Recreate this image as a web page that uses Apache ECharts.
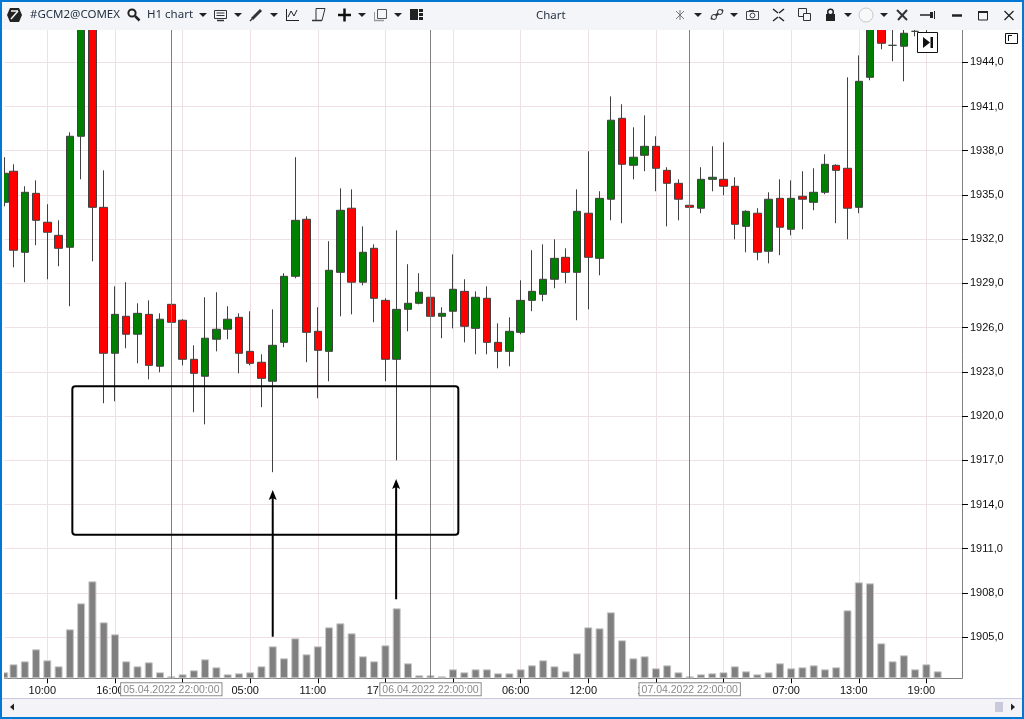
<!DOCTYPE html>
<html>
<head>
<meta charset="utf-8">
<title>Chart</title>
<style>
    html, body { margin: 0; padding: 0; background: #fff; overflow: hidden; }
    #main { width: 1024px; height: 719px; }
</style>
<script src="https://cdn.jsdelivr.net/npm/echarts@6/dist/echarts.min.js"></script>
</head>
<body>
<div id="main"></div>
<script>
var openValues = [1934.50,1936.61,1931.11,1935.11,1933.15,1932.26,1931.45,1938.98,1948.20,1934.16,
    1924.26,1926.77,1925.55,1926.90,1923.38,1927.58,1926.50,1923.85,1922.70,1925.21,
    1925.89,1926.70,1924.39,1923.65,1922.36,1925.00,1929.48,1933.35,1925.75,1924.39,
    1929.75,1934.10,1929.08,1931.38,1927.85,1923.85,1927.24,1927.65,1928.06,1926.77,
    1927.11,1928.46,1925.95,1927.99,1925.00,1924.39,1925.68,1927.85,1928.26,1929.28,
    1930.77,1929.75,1933.76,1930.70,1934.71,1940.20,1937.01,1937.69,1938.30,1936.67,
    1935.79,1934.30,1934.10,1936.06,1936.06,1935.59,1932.87,1933.76,1931.18,1934.77,
    1932.67,1934.91,1934.50,1935.18,1937.01,1936.81,1934.16,1942.98,1947.60,1945.15,
    1945.09,1946.10,1946.60,1947.50];
var closeValues = [1936.47,1931.25,1935.18,1933.28,1932.47,1931.38,1938.98,1948.00,1934.16,1924.26,
    1926.90,1925.55,1926.97,1923.44,1926.57,1926.36,1923.85,1922.90,1925.28,1925.89,
    1926.57,1924.26,1923.58,1922.56,1924.80,1929.48,1933.28,1925.68,1924.46,1929.89,
    1933.96,1929.08,1931.11,1927.99,1923.85,1927.24,1927.65,1928.40,1926.77,1926.97,
    1928.60,1926.09,1928.06,1925.00,1924.39,1925.75,1927.85,1928.46,1929.28,1930.70,
    1929.75,1933.89,1930.77,1934.77,1940.07,1937.08,1937.56,1938.30,1936.81,1935.79,
    1934.71,1934.16,1936.06,1936.20,1935.59,1933.01,1933.89,1931.11,1934.71,1932.81,
    1934.77,1934.71,1935.18,1937.08,1936.67,1934.10,1942.71,1947.50,1945.29,1945.15,
    1945.97,1946.10,1947.20,1948.00];
var lowValues = [1934.23,1930.09,1929.08,1931.59,1929.28,1930.16,1927.45,1936.06,1930.50,1920.87,
    1921.00,1924.60,1923.58,1922.49,1922.97,1925.28,1923.44,1920.26,1919.44,1924.39,
    1925.21,1922.90,1923.44,1920.60,1916.19,1924.67,1929.35,1923.65,1921.21,1922.36,
    1926.77,1926.90,1928.87,1926.36,1922.36,1917.00,1925.75,1927.58,1926.16,1925.28,
    1925.95,1925.00,1924.19,1924.19,1923.24,1923.38,1925.55,1927.11,1927.79,1928.67,
    1929.01,1926.50,1927.24,1929.55,1933.28,1933.08,1936.06,1936.61,1935.25,1932.87,
    1933.28,1933.35,1933.76,1935.25,1934.98,1931.99,1931.11,1930.57,1930.36,1930.91,
    1932.26,1932.67,1933.96,1935.05,1933.08,1931.99,1933.76,1942.78,1944.88,1944.07,
    1942.71,1945.76,1945.97,1947.20];
var highValues = [1937.56,1937.08,1935.59,1935.99,1934.37,1933.28,1939.25,1948.50,1948.50,1936.67,
    1928.80,1929.08,1927.65,1927.85,1926.97,1928.80,1926.57,1924.80,1928.06,1928.40,
    1927.45,1926.97,1927.11,1924.19,1927.24,1929.69,1937.56,1933.55,1927.38,1931.86,
    1935.45,1935.38,1932.87,1931.65,1927.99,1932.60,1930.30,1929.69,1928.40,1927.38,
    1930.97,1929.28,1928.46,1928.80,1926.29,1926.70,1929.21,1931.25,1931.65,1931.99,
    1931.38,1935.38,1937.96,1935.25,1941.69,1941.15,1939.59,1940.40,1938.98,1936.88,
    1936.06,1935.25,1936.88,1938.30,1938.57,1936.20,1933.96,1934.10,1935.18,1936.06,
    1935.99,1936.61,1936.81,1937.76,1937.08,1942.98,1944.47,1948.00,1948.00,1947.00,
    1947.00,1947.00,1948.00,1948.50];
var volumeValues = [18,42,51,87,54,36,147,225,291,168,
    132,51,36,48,18,6,12,24,57,33,
    12,15,18,36,96,60,120,72,96,153,
    165,135,66,51,99,210,45,9,9,6,
    27,18,27,27,15,15,27,39,54,36,
    21,75,153,150,198,114,60,66,30,39,
    18,6,12,15,18,36,21,12,18,45,
    30,33,39,27,33,204,288,285,105,51,
    69,27,42,21];
var xTickIndex = [4,10,16,22,28,34,40,46,52,58,64,70,76,82];
var xTickLabels = ['10:00','16:00','22:00','05:00','11:00','17:00','23:00','06:00','12:00','18:00','01:00','07:00','13:00','19:00'];
var priceTicks = [1905,1908,1911,1914,1917,1920,1923,1926,1929,1932,1935,1938,1941,1944];
var sessionIndex = [15,38,61];
var sessionLabels = ['05.04.2022 22:00:00','06.04.2022 22:00:00','07.04.2022 22:00:00'];
var boxCoords = [[6.22,1922.02,40.47,1911.95]];
var arrowCoords = [[24.0,1905.03,1914.98],[34.95,1907.57,1915.73]];

var candleData = [];
var volumeData = [];
for (var i = 0; i < openValues.length; i++) {
    // the first bar is cut by the left edge and sits a little closer to the second one
    var barX = i === 0 ? 0.18 : i;
    candleData.push([barX, openValues[i], closeValues[i], lowValues[i], highValues[i]]);
    volumeData.push([barX, volumeValues[i]]);
}

var sessionLines = [];
for (var s = 0; s < sessionIndex.length; s++) {
    sessionLines.push({ xAxis: sessionIndex[s], label: { formatter: sessionLabels[s] } });
}

var FONT = '"Liberation Sans", Arial, sans-serif';
var UI_FONT = '"Noto Sans", sans-serif';
var CHROME_Z = 50;

// window chrome helpers
function box(x, y, w, h, fill, stroke, lw) {
    return { type: 'rect', z: CHROME_Z, silent: true, shape: { x: x, y: y, width: w, height: h },
        style: { fill: fill || 'none', stroke: stroke || 'none', lineWidth: lw || 1 } };
}
function caret(x, y) {
    return { type: 'polygon', z: CHROME_Z, silent: true, shape: { points: [[x, y], [x + 8, y], [x + 4, y + 4]] }, style: { fill: '#222' } };
}
function poly(points, fill) {
    return { type: 'polygon', z: CHROME_Z, silent: true, shape: { points: points }, style: { fill: fill } };
}
function line(x1, y1, x2, y2, color, lw) {
    return { type: 'line', z: CHROME_Z, silent: true, shape: { x1: x1, y1: y1, x2: x2, y2: y2 }, style: { stroke: color || '#222', lineWidth: lw || 1 } };
}
function ring(cx, cy, r, stroke, lw, fill) {
    return { type: 'circle', z: CHROME_Z, silent: true, shape: { cx: cx, cy: cy, r: r }, style: { fill: fill || 'none', stroke: stroke, lineWidth: lw || 1 } };
}
function label(x, y, text) {
    return { type: 'text', z: CHROME_Z, silent: true, x: x, y: y,
        style: { text: text, fill: '#1f2d3d', font: '11.5px ' + UI_FONT, verticalAlign: 'middle' } };
}

var chrome = [
    box(0, 0, 1024, 30, '#f4f5f9'),
    box(0, 698, 1024, 21, '#f3f3f8'),
    line(0, 698.5, 1024, 698.5, '#c9c9de'),
    box(2, 30, 2, 668, '#fff'),
    box(0, 0, 1024, 2, '#0078d4'),
    box(0, 0, 2, 719, '#0078d4'),
    box(1022, 0, 2, 719, '#0078d4'),
    box(0, 717, 1024, 2, '#0078d4'),

    // left toolbar
    poly([[10, 8], [19, 8], [22, 15], [19, 22], [10, 22], [7, 15]], '#222'),
    line(11, 11, 18, 11, '#f4f5f9', 1.5), line(18, 11, 11, 19, '#f4f5f9', 1.5),
    label(30, 15, '#GCM2@COMEX'),
    ring(132, 13, 3.6, '#222', 2), line(135, 16, 139.5, 20.5, '#222', 2.5),
    label(147, 15, 'H1 chart'),
    caret(199, 13),
    box(214.5, 10.5, 12, 8, '#f4f5f9', '#333'), line(216.5, 13, 224.5, 13, '#333'), line(216.5, 15.5, 224.5, 15.5, '#333'), line(217, 20.5, 224, 20.5, '#333', 1.5),
    caret(234, 13),
    line(252, 19, 261, 10, '#333', 3), line(250, 21, 252, 19, '#333', 1.5),
    caret(270, 13),
    line(286.5, 9, 286.5, 20.5, '#222'), line(286, 20.5, 299, 20.5, '#222'), line(288, 17, 291, 11, '#222'), line(291, 11, 294, 16, '#222'), line(294, 16, 297, 10, '#222'),
    line(316, 8.5, 325, 8.5, '#333'), line(316, 8.5, 316, 20, '#333'), line(325, 8.5, 322, 20.5, '#333'), line(312, 20.5, 322, 20.5, '#333', 1.5),
    line(338, 15, 351, 15, '#111', 2.5), line(344.5, 8.5, 344.5, 21.5, '#111', 2.5),
    caret(358, 13),
    box(377.5, 9.5, 9, 9, '#f4f5f9', '#555'), line(374.5, 12, 374.5, 20.5, '#999'), line(374, 20.5, 384, 20.5, '#999', 1.5),
    caret(394, 13),
    box(410, 9, 8, 11, '#222'), box(419, 9, 4, 3, '#222'), box(419, 13, 4, 3, '#222'), box(419, 17, 4, 3, '#222'),

    label(536, 15.5, 'Chart'),

    // right toolbar
    line(676, 11, 684, 19, '#777'), line(684, 11, 676, 19, '#777'), line(680, 10, 680, 20, '#777'),
    caret(694, 13),
    line(711, 19, 723, 10, '#333', 2.5), ring(714, 17, 2.5, '#333', 1, '#f4f5f9'), ring(720, 12, 2.5, '#333', 1, '#f4f5f9'),
    caret(730, 13),
    box(746.5, 11.5, 12, 8, '#f4f5f9', '#444'), ring(752.5, 15.5, 2.4, '#444'), line(749, 10.5, 754, 10.5, '#444'),
    line(773, 9, 778, 13, '#222', 1.5), line(784, 9, 779, 13, '#222', 1.5), line(773, 21, 778, 17, '#222', 1.5), line(784, 21, 779, 17, '#222', 1.5),
    box(798.5, 8.5, 8, 8, '#f4f5f9', '#333'), box(803.5, 13.5, 7, 7, '#f4f5f9', '#333'),
    box(826, 14, 9, 7, '#222'), ring(830.5, 12, 2.8, '#222', 1.5),
    caret(844, 13),
    ring(866, 15, 7, '#c9c9c9', 1, '#f8f8f8'),
    caret(880, 13),
    line(897, 10, 907, 20, '#333', 2), line(907, 10, 898, 20, '#333', 2),
    line(920, 15, 930, 15, '#222', 1.5), box(930, 12, 3, 6, '#222'), line(934.5, 11, 934.5, 19, '#222'),
    line(952, 15.5, 962, 15.5, '#222', 2.5),
    box(978.5, 11.5, 9, 8.5, 'none', '#222'), line(978, 12, 988, 12, '#222', 2),
    line(1004.5, 11, 1013.5, 20, '#222', 1.2), line(1013.5, 11, 1004.5, 20, '#222', 1.2),

    // chart corner buttons
    box(917.5, 32.5, 20, 20, '#fff', '#111'),
    poly([[923, 37], [930, 42.5], [923, 48]], '#111'), box(930.5, 37, 2.5, 11, '#111'),
    box(1005.5, 33.5, 12, 10, '#fff', '#111'),
    line(1008, 35.5, 1012, 35.5, '#111'), line(1008.5, 35.5, 1008.5, 41, '#111'),

    // scroll bar
    poly([[14, 703.5], [14, 710.5], [10, 707]], '#222'),
    box(995, 702, 8, 10, '#c8cadc'),
    poly([[1011, 703.5], [1011, 710.5], [1015, 707]], '#222')
];

var myChart = echarts.init(document.getElementById('main'), null, { renderer: 'canvas' });

var option = {
    animation: false,
    backgroundColor: '#fff',
    grid: { left: 4.5, right: 62, top: 30, bottom: 40.7 },
    xAxis: {
        type: 'value',
        // x = 2.2 + 11.27 * index, the plot starts just after the first candle
        min: 0.2,
        max: 85.16,
        axisLine: { onZero: false, lineStyle: { color: '#808080' } },
        axisTick: { show: true, customValues: xTickIndex, length: 5, lineStyle: { color: '#000', width: 1 } },
        axisLabel: {
            customValues: xTickIndex,
            color: '#111',
            fontSize: 11,
            fontFamily: FONT,
            margin: 7,
            padding: [0, 10, 0, 0],
            formatter: function (value) {
                return xTickLabels[xTickIndex.indexOf(value)] || '';
            }
        },
        splitLine: { show: true, lineStyle: { color: '#efe0e6', width: 1 } }
    },
    yAxis: [
        {
            type: 'value',
            position: 'right',
            min: 1902.21,
            max: 1946.19,
            axisLine: { show: true, lineStyle: { color: '#808080' } },
            axisTick: { show: true, customValues: priceTicks, length: 6, lineStyle: { color: '#000', width: 1 } },
            axisLabel: {
                customValues: priceTicks,
                color: '#111',
                fontSize: 11,
                fontFamily: FONT,
                margin: 8,
                formatter: function (value) {
                    return value.toFixed(1).replace('.', ',');
                }
            },
            splitLine: { show: true, lineStyle: { color: '#efe0e6', width: 1 } }
        },
        {
            type: 'value',
            position: 'right',
            min: 0,
            max: 1945,
            show: false,
            splitLine: { show: false }
        }
    ],
    graphic: { elements: chrome },
    series: [
        {
            name: 'Volume',
            type: 'bar',
            yAxisIndex: 1,
            barWidth: 8,
            z: 2,
            silent: true,
            itemStyle: { color: '#808080', borderColor: '#c8c8c8', borderWidth: 1 },
            data: volumeData,
            markLine: {
                silent: true,
                symbol: 'none',
                z: 5,
                lineStyle: { color: '#808080', width: 1, type: 'solid' },
                label: {
                    position: 'start',
                    distance: 5,
                    color: '#8a8a8a',
                    fontSize: 10.5,
                    fontFamily: FONT,
                    backgroundColor: '#fff',
                    borderColor: '#8a8a8a',
                    borderWidth: 1,
                    padding: [1, 2, 0, 2]
                },
                data: sessionLines
            }
        },
        {
            name: 'GCM2',
            type: 'candlestick',
            yAxisIndex: 0,
            barWidth: 8,
            z: 3,
            silent: true,
            itemStyle: {
                color: '#008000',
                color0: '#ff0000',
                borderColor: '#404040',
                borderColor0: '#404040',
                borderColorDoji: '#404040',
                borderWidth: 1
            },
            data: candleData
        },
        {
            name: 'Zone',
            type: 'custom',
            yAxisIndex: 0,
            z: 6,
            silent: true,
            data: boxCoords,
            renderItem: function (params, api) {
                var p1 = api.coord([api.value(0), api.value(1)]);
                var p2 = api.coord([api.value(2), api.value(3)]);
                return {
                    type: 'rect',
                    shape: { x: p1[0], y: p1[1], width: p2[0] - p1[0], height: p2[1] - p1[1], r: 3 },
                    style: { fill: 'none', stroke: '#000', lineWidth: 2 }
                };
            }
        },
        {
            name: 'Arrows',
            type: 'custom',
            yAxisIndex: 0,
            z: 6,
            silent: true,
            data: arrowCoords,
            renderItem: function (params, api) {
                var from = api.coord([api.value(0), api.value(1)]);
                var to = api.coord([api.value(0), api.value(2)]);
                return {
                    type: 'group',
                    children: [
                        {
                            type: 'line',
                            shape: { x1: from[0], y1: from[1], x2: to[0], y2: to[1] + 6 },
                            style: { stroke: '#000', lineWidth: 2 }
                        },
                        {
                            type: 'polygon',
                            shape: { points: [[to[0], to[1]], [to[0] + 4, to[1] + 10], [to[0], to[1] + 8], [to[0] - 4, to[1] + 10]] },
                            style: { fill: '#000' }
                        }
                    ]
                };
            }
        }
    ]
};

myChart.setOption(option);
</script>
</body>
</html>
